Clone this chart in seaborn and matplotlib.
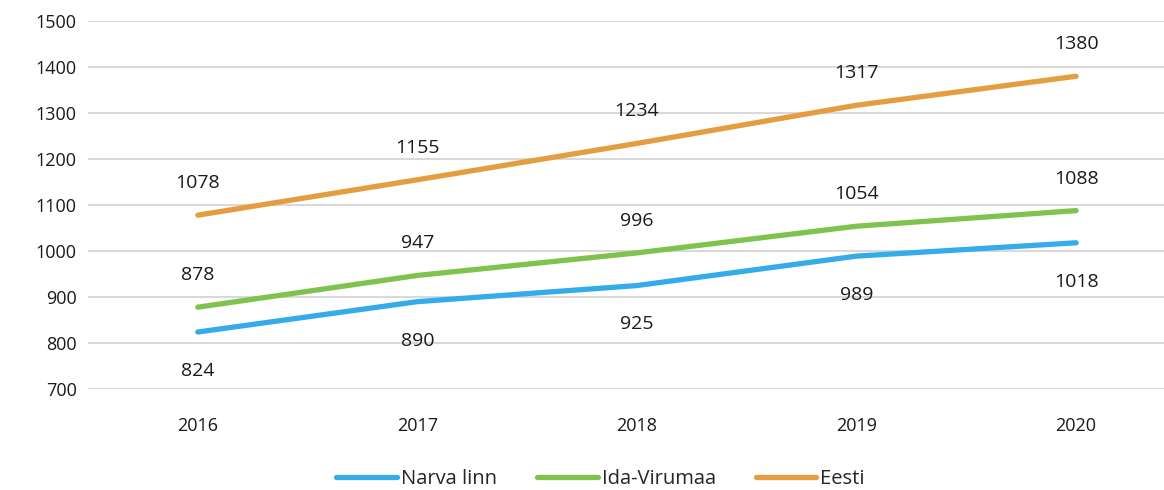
import pandas as pd
import numpy as np
import matplotlib.pyplot as plt
import seaborn as sns

sns.set_style("white")
plt.rcParams['font.family'] = ['Open Sans', 'DejaVu Sans']

# data
years = ["2016", "2017", "2018", "2019", "2020"]
narva = [824, 890, 925, 989, 1018]
ida_viru = [878, 947, 996, 1054, 1088]
eesti = [1078, 1155, 1234, 1317, 1380]

series = ["Narva linn", "Ida-Virumaa", "Eesti"]
colors = ["#35ACEA", "#80C24E", "#E59E3F"]

df = pd.DataFrame({
    "year": years * 3,
    "value": narva + ida_viru + eesti,
    "series": [s for s in series for _ in years],
})
df["x"] = df["year"].map({y: i for i, y in enumerate(years)})

fig = plt.figure(figsize=(11.64, 4.9), dpi=100)
ax = fig.add_axes([0.0756, 0.206, 0.93, 0.751])

sns.lineplot(data=df, x="x", y="value", hue="series", hue_order=series,
             palette=colors, linewidth=3.8, ax=ax, solid_capstyle="round")

# data labels
offsets = {"Narva linn": -28, "Ida-Virumaa": 23, "Eesti": 23}
for s in series:
    sub = df[df["series"] == s]
    for xv, yv in zip(sub["x"], sub["value"]):
        ax.annotate(str(yv), (xv, yv), xytext=(0, offsets[s]),
                    textcoords="offset points", ha="center", va="center",
                    fontsize=14, color="#1a1a1a")

ax.set_ylim(700, 1500)
ax.set_yticks(range(700, 1501, 100))
ax.set_xlim(-0.5, 4.43)
ax.set_xticks(range(len(years)))
ax.set_xticklabels(years)
ax.set_xlabel("")
ax.set_ylabel("")
ax.grid(axis="y", color="#d9d9d9", linewidth=1.5)
ax.set_axisbelow(True)
for sp in ax.spines.values():
    sp.set_visible(False)
ax.tick_params(axis="both", length=0, labelsize=13, colors="#1a1a1a")
ax.tick_params(axis="x", pad=20)
ax.tick_params(axis="y", pad=8)

handles, labels = ax.get_legend_handles_labels()
leg = ax.legend(handles, labels, loc="lower center", ncol=3, frameon=False,
                fontsize=14.5, handlelength=3.0, handletextpad=0.2,
                columnspacing=2.0)
leg.set_bbox_to_anchor((0.516, -0.035), transform=fig.transFigure)

fig.savefig("out.png", dpi=100)
